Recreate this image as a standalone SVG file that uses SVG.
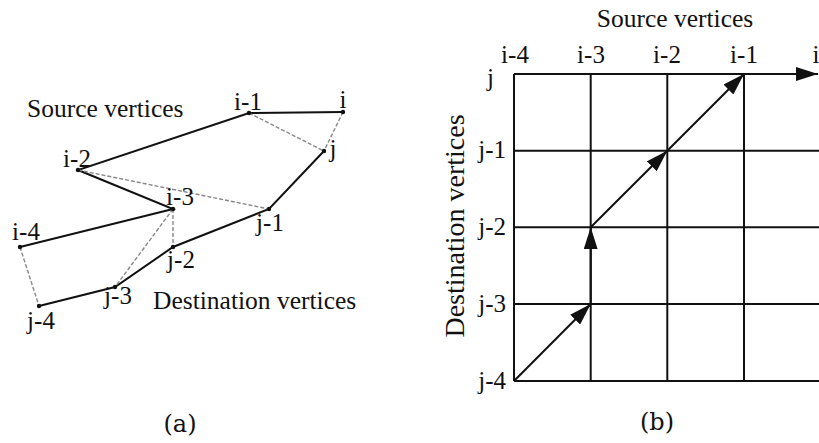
<svg xmlns="http://www.w3.org/2000/svg" width="819" height="443" viewBox="0 0 819 443">
<defs>
<style>
text{font-family:"Liberation Serif","Times New Roman",serif;fill:#111;}
.lbl{font-size:25px;}
.cap{font-size:25.5px;}
.vcap{font-size:28px;}
.sub{font-family:"DejaVu Serif","Liberation Serif",serif;font-size:24px;}
.solid{stroke:#111;stroke-width:2;fill:none;stroke-linecap:round;}
.dash{stroke:#888;stroke-width:1.4;stroke-dasharray:4 2;fill:none;}
.grid{stroke:#111;stroke-width:2;fill:none;}
.arr{stroke:#111;stroke-width:2;fill:none;marker-end:url(#ah);}
.dot{fill:#111;}
</style>
<marker id="ah" markerUnits="userSpaceOnUse" markerWidth="24" markerHeight="14" refX="22" refY="7" orient="auto">
<path d="M0,0 L22,7 L0,14 Z" fill="#111"/>
</marker>
</defs>
<rect width="819" height="443" fill="#fff"/>

<g id="panel-a">
<g id="connectors-a">
<polyline class="solid" points="20,247 173,209 78,170 249,113 343,112"/>
<polyline class="solid" points="39,306 115,287 173,247 269,209 324,151"/>
<line class="dash" x1="249" y1="113" x2="324" y2="151"/>
<line class="dash" x1="343" y1="112" x2="324" y2="151"/>
<line class="dash" x1="78" y1="170" x2="269" y2="209"/>
<line class="dash" x1="173" y1="209" x2="115" y2="287"/>
<line class="dash" x1="173" y1="209" x2="173" y2="247"/>
<line class="dash" x1="20" y1="247" x2="39" y2="306"/>
</g>
<g id="v-i"><circle class="dot" cx="343" cy="112" r="2.2"/><text class="lbl" x="343" y="108" text-anchor="middle">i</text></g>
<g id="v-i1"><circle class="dot" cx="249" cy="113" r="2.2"/><text class="lbl" x="248" y="110" text-anchor="middle">i-1</text></g>
<g id="v-i2"><circle class="dot" cx="78" cy="170" r="2.2"/><text class="lbl" x="77" y="167" text-anchor="middle">i-2</text></g>
<g id="v-i3"><circle class="dot" cx="173" cy="209" r="2.2"/><text class="lbl" x="180" y="205" text-anchor="middle">i-3</text></g>
<g id="v-i4"><circle class="dot" cx="20" cy="247" r="2.2"/><text class="lbl" x="26" y="240" text-anchor="middle">i-4</text></g>
<g id="v-j"><circle class="dot" cx="324" cy="151" r="2.2"/><text class="lbl" x="333" y="157" text-anchor="middle">j</text></g>
<g id="v-j1"><circle class="dot" cx="269" cy="209" r="2.2"/><text class="lbl" x="270" y="231" text-anchor="middle">j-1</text></g>
<g id="v-j2"><circle class="dot" cx="173" cy="247" r="2.2"/><text class="lbl" x="181" y="268" text-anchor="middle">j-2</text></g>
<g id="v-j3"><circle class="dot" cx="115" cy="287" r="2.2"/><text class="lbl" x="118" y="304" text-anchor="middle">j-3</text></g>
<g id="v-j4"><circle class="dot" cx="39" cy="306" r="2.2"/><text class="lbl" x="41" y="329" text-anchor="middle">j-4</text></g>
<text class="cap" x="27" y="117">Source vertices</text>
<text class="cap" x="153" y="309">Destination vertices</text>
<text class="sub" x="180" y="432" text-anchor="middle">(a)</text>
</g>

<g id="panel-b">
<g id="grid">
<line class="grid" x1="514" y1="74" x2="800" y2="74"/>
<line class="grid" x1="514" y1="150.7" x2="819" y2="150.7"/>
<line class="grid" x1="514" y1="227.3" x2="819" y2="227.3"/>
<line class="grid" x1="514" y1="304" x2="819" y2="304"/>
<line class="grid" x1="514" y1="381" x2="819" y2="381"/>
<line class="grid" x1="514" y1="74" x2="514" y2="381"/>
<line class="grid" x1="590.7" y1="74" x2="590.7" y2="381"/>
<line class="grid" x1="667.3" y1="74" x2="667.3" y2="381"/>
<line class="grid" x1="744" y1="74" x2="744" y2="381"/>
</g>
<g id="connectors-b">
<line class="arr" x1="514" y1="381" x2="590.7" y2="304"/>
<line class="arr" x1="590.7" y1="304" x2="590.7" y2="227.3"/>
<line class="arr" x1="590.7" y1="227.3" x2="667.3" y2="150.7"/>
<line class="arr" x1="667.3" y1="150.7" x2="744" y2="74"/>
<line class="arr" x1="744" y1="74" x2="818" y2="74"/>
</g>
<g id="col-labels">
<text class="lbl" x="515" y="63" text-anchor="middle">i-4</text>
<text class="lbl" x="591" y="63" text-anchor="middle">i-3</text>
<text class="lbl" x="667" y="63" text-anchor="middle">i-2</text>
<text class="lbl" x="744" y="63" text-anchor="middle">i-1</text>
<text class="lbl" x="816" y="63" text-anchor="middle">i</text>
</g>
<g id="row-labels">
<text class="lbl" x="494" y="86" text-anchor="end">j</text>
<text class="lbl" x="506" y="158" text-anchor="end">j-1</text>
<text class="lbl" x="506" y="235" text-anchor="end">j-2</text>
<text class="lbl" x="506" y="312" text-anchor="end">j-3</text>
<text class="lbl" x="506" y="389" text-anchor="end">j-4</text>
</g>
<text class="cap" x="675" y="27" text-anchor="middle">Source vertices</text>
<text class="vcap" transform="translate(464,226) rotate(-90)" text-anchor="middle">Destination vertices</text>
<text class="sub" x="657" y="430" text-anchor="middle">(b)</text>
</g>
</svg>
